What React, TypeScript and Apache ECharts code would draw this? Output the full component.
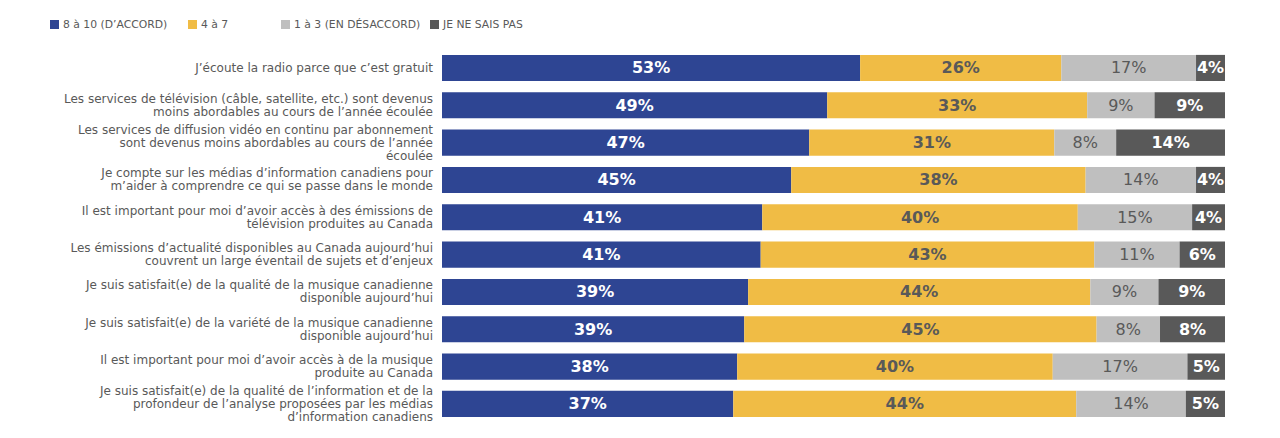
import React, { useEffect, useRef } from "react";
import * as echarts from "echarts";

const categories = [
  "J’écoute la radio parce que c’est gratuit",
  "Les services de télévision (câble, satellite, etc.) sont devenus\nmoins abordables au cours de l’année écoulée",
  "Les services de diffusion vidéo en continu par abonnement\nsont devenus moins abordables au cours de l’année\nécoulée",
  "Je compte sur les médias d’information canadiens pour\nm’aider à comprendre ce qui se passe dans le monde",
  "Il est important pour moi d’avoir accès à des émissions de\ntélévision produites au Canada",
  "Les émissions d’actualité disponibles au Canada aujourd’hui\ncouvrent un large éventail de sujets et d’enjeux",
  "Je suis satisfait(e) de la qualité de la musique canadienne\ndisponible aujourd’hui",
  "Je suis satisfait(e) de la variété de la musique canadienne\ndisponible aujourd’hui",
  "Il est important pour moi d’avoir accès à de la musique\nproduite au Canada",
  "Je suis satisfait(e) de la qualité de l’information et de la\nprofondeur de l’analyse proposées par les médias\nd’information canadiens",
];

const seriesNames = ["8 à 10 (D’ACCORD)", "4 à 7", "1 à 3 (EN DÉSACCORD)", "JE NE SAIS PAS"];

const agree = [53.4, 49.2, 46.9, 44.6, 40.9, 40.7, 39.1, 38.6, 37.7, 37.2];
const neutral = [25.7, 33.2, 31.3, 37.6, 40.3, 42.6, 43.7, 45.0, 40.3, 43.8];
const disagree = [17.2, 8.6, 7.9, 14.1, 14.6, 10.9, 8.7, 8.1, 17.2, 14.0];
const dontKnow = [3.7, 9.0, 13.9, 3.7, 4.2, 5.8, 8.5, 8.3, 4.8, 5.0];

const colors = ["#2E4593", "#F0BC45", "#BFBFBF", "#595959"];
const labelColors = ["#FFFFFF", "#595959", "#595959", "#FFFFFF"];
const labelWeights = ["bold", "bold", "normal", "bold"];
const legendLefts = [42, 180, 273, 422];

const FONT = "DejaVu Sans";

export default function App() {
  const ref = useRef<HTMLDivElement>(null);
  useEffect(() => {
    if (!ref.current) return;
    const chart = echarts.init(ref.current, undefined, { renderer: "svg" });
    const data = [agree, neutral, disagree, dontKnow];
    chart.setOption({
      animation: false,
      textStyle: { fontFamily: FONT },
      legend: seriesNames.map((n, i) => ({
        data: [n],
        left: legendLefts[i],
        top: 11,
        icon: "rect",
        itemWidth: 9,
        itemHeight: 9,
        itemGap: 5,
        padding: 0,
        selectedMode: false,
        textStyle: { color: "#595959", fontSize: 10.8, fontFamily: FONT, padding: [0, 0, 0, -1] },
      })),
      grid: { left: 434, right: 47, top: 41.3, height: 373.3, containLabel: false },
      xAxis: { type: "value", min: 0, max: 100, show: false },
      yAxis: {
        type: "category",
        inverse: true,
        data: categories,
        axisLine: { show: false },
        axisTick: { show: false },
        splitLine: { show: false },
        axisLabel: {
          color: "#595959",
          fontSize: 12,
          lineHeight: 13,
          margin: 9,
          fontFamily: FONT,
          align: "right",
        },
      },
      series: seriesNames.map((n, i) => ({
        name: n,
        type: "bar",
        stack: "total",
        data: data[i],
        barCategoryGap: "30%",
        itemStyle: { color: colors[i] },
        label: {
          show: true,
          position: "inside",
          color: labelColors[i],
          fontWeight: labelWeights[i],
          fontSize: 16,
          fontFamily: FONT,
          formatter: (p: any) => Math.round(p.value) + "%",
        },
      })),
    });
    return () => chart.dispose();
  }, []);
  return <div ref={ref} style={{ width: 1264, height: 430 }} />;
}
